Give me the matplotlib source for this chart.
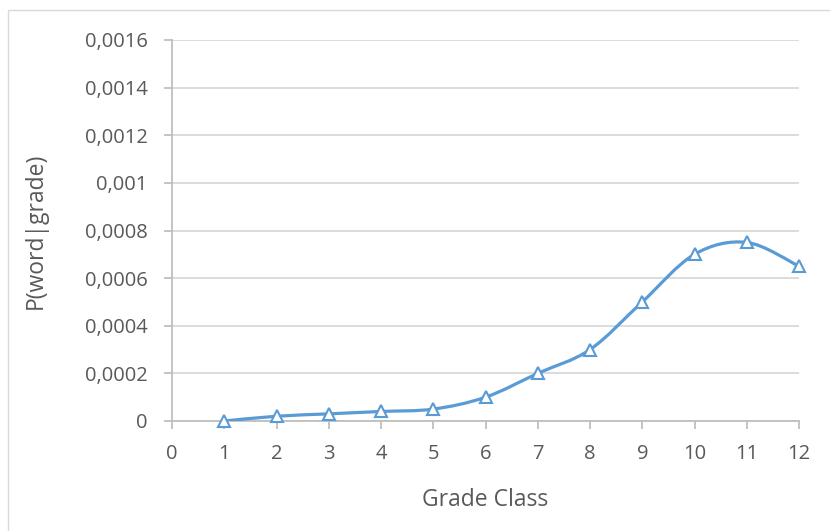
import numpy as np
import matplotlib.pyplot as plt
from matplotlib.path import Path
from matplotlib.patches import PathPatch, Rectangle
from matplotlib.ticker import FuncFormatter

# grade classes and word probability per grade
grades = [1, 2, 3, 4, 5, 6, 7, 8, 9, 10, 11, 12]
p_word = [0.0, 0.00002, 0.00003, 0.00004, 0.00005, 0.0001, 0.0002, 0.0003,
          0.0005, 0.0007, 0.00075, 0.00065]

blue = '#5B9BD5'
grey_txt = '#595959'
grid_col = '#D9D9D9'

plt.rcParams['font.family'] = ['Open Sans', 'DejaVu Sans']

fig = plt.figure(figsize=(8.3, 5.31), dpi=100)
# chart frame around the whole area
fig.patches.append(Rectangle((8 / 830, -0.1), 1.1, 1.1 - 10 / 531,
                             transform=fig.transFigure, fill=False,
                             edgecolor='#D9D9D9', linewidth=1.0))
ax = fig.add_axes([172 / 830, 1 - 421 / 531, (799 - 172) / 830, (421 - 40) / 531])


# smoothed line through the points (cubic bezier, excel style)
def smooth_path(xs, ys):
    pts = np.column_stack([xs, ys]).astype(float)
    ext = np.vstack([pts[0], pts, pts[-1]])
    verts = [pts[0]]
    codes = [Path.MOVETO]
    for i in range(len(pts) - 1):
        p0, p1, p2, p3 = ext[i], ext[i + 1], ext[i + 2], ext[i + 3]
        c1 = p1 + (p2 - p0) / 6
        c2 = p2 - (p3 - p1) / 6
        verts += [c1, c2, p2]
        codes += [Path.CURVE4] * 3
    return Path(verts, codes)


ax.add_patch(PathPatch(smooth_path(grades, p_word), facecolor='none',
                       edgecolor=blue, linewidth=2.3, capstyle='round', zorder=3))
ax.plot(grades, p_word, linestyle='none', marker='^', markersize=8.5,
        markerfacecolor='white', markeredgecolor=blue, markeredgewidth=1.5,
        zorder=4, clip_on=False)

ax.set_xlim(0, 12)
ax.set_ylim(0, 0.0016)
ax.set_xticks(range(0, 13))
ax.set_yticks(np.arange(0, 0.00161, 0.0002))


def comma_fmt(v, pos):
    if abs(v) < 1e-12:
        return '0'
    s = ('%.4f' % v).rstrip('0').rstrip('.')
    return s.replace('.', ',')


ax.yaxis.set_major_formatter(FuncFormatter(comma_fmt))

ax.grid(axis='y', color=grid_col, linewidth=1.3)
ax.set_axisbelow(True)
for side in ['top', 'right']:
    ax.spines[side].set_visible(False)
for side in ['left', 'bottom']:
    ax.spines[side].set_color('#BFBFBF')
    ax.spines[side].set_linewidth(1.3)

ax.tick_params(axis='both', colors='#BFBFBF', labelcolor=grey_txt,
               labelsize=14.5, length=5.5, width=1.3, direction='out')
ax.tick_params(axis='x', pad=11)
ax.tick_params(axis='y', pad=12)

ax.set_xlabel('Grade Class', fontsize=16.5, color=grey_txt, va='top')
ax.set_ylabel('P(word|grade)', fontsize=16.5, color=grey_txt)
ax.xaxis.set_label_coords(0.5, (421 - 488) / 381)
ax.yaxis.set_label_coords((48 - 172) / 627, 0.5)

fig.savefig('out.png', dpi=100)
